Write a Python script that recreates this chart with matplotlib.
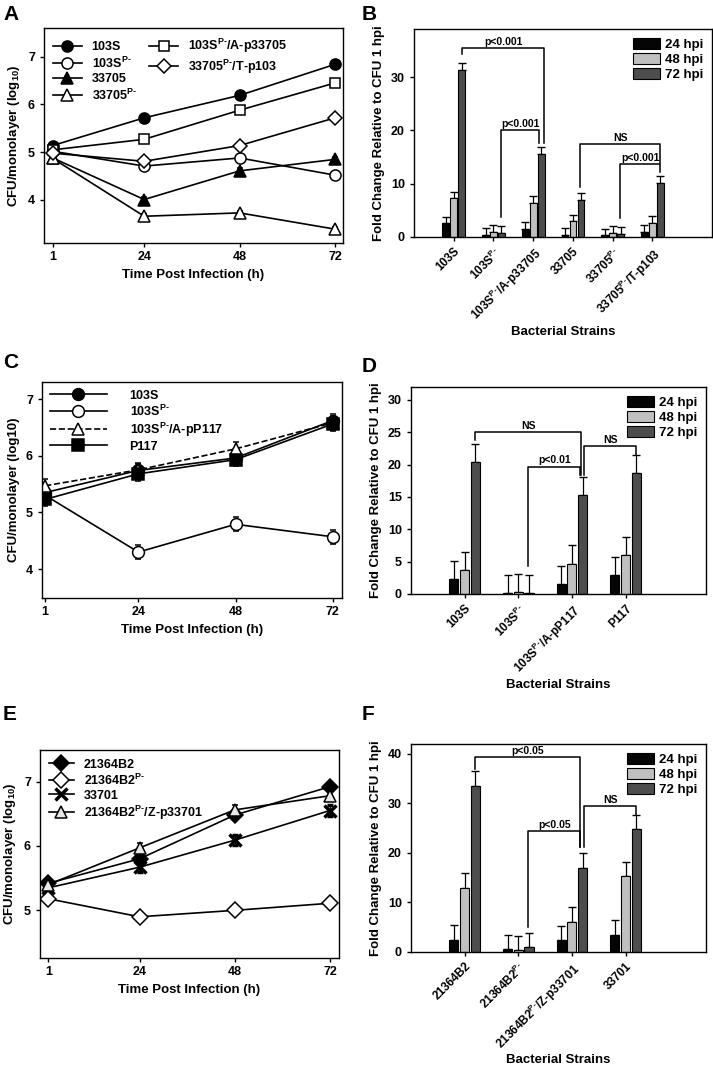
import matplotlib
matplotlib.use('Agg')
import matplotlib.pyplot as plt
from matplotlib.lines import Line2D
import numpy as np

plt.rcParams['font.family'] = ['Liberation Sans', 'DejaVu Sans']
plt.rcParams['font.weight'] = 'bold'
plt.rcParams['mathtext.fontset'] = 'custom'
plt.rcParams['mathtext.rm'] = 'Liberation Sans:bold'
plt.rcParams['mathtext.it'] = 'Liberation Sans:bold'
plt.rcParams['mathtext.bf'] = 'Liberation Sans:bold'

# ---------------- data ----------------
hours = [1, 24, 48, 72]

# Panel A
a_103S = [5.14, 5.72, 6.19, 6.84]
a_103S_P = [5.02, 4.71, 4.88, 4.52]
a_33705 = [4.88, 4.01, 4.61, 4.85]
a_33705_P = [4.87, 3.66, 3.73, 3.39]
a_103S_A = [5.05, 5.27, 5.88, 6.45]
a_33705_T = [4.98, 4.81, 5.14, 5.72]
a_err = [0.05, 0.05, 0.05, 0.05]

# Panel C
c_103S = [5.35, 5.74, 5.96, 6.62]
c_103S_P = [5.30, 4.30, 4.79, 4.57]
c_103S_A = [5.47, 5.75, 6.12, 6.58]
c_P117 = [5.23, 5.68, 5.93, 6.56]
c_err = [0.12, 0.12, 0.12, 0.12]

# Panel E
e_21364B2 = [5.42, 5.80, 6.48, 6.92]
e_21364B2_P = [5.18, 4.90, 5.00, 5.11]
e_33701 = [5.35, 5.67, 6.09, 6.55]
e_21364B2_Z = [5.40, 5.97, 6.56, 6.78]
e_err = [0.08, 0.08, 0.08, 0.08]

PM = r'$^{\mathrm{P}\text{-}}$'

# Panel B
b_strains = ['103S', '103S' + PM, '103S' + PM + '/A-p33705', '33705', '33705' + PM, '33705' + PM + '/T-p103']
b_24 = [2.56, 0.40, 1.56, 0.40, 0.30, 0.94]
b_48 = [7.25, 0.94, 6.40, 2.94, 0.80, 2.60]
b_72 = [31.4, 0.75, 15.6, 6.94, 0.60, 10.1]
b_err = [1.25, 1.25, 1.25, 1.25, 1.25, 1.25]

# Panel D
d_strains = ['103S', '103S' + PM, '103S' + PM + '/A-pP117', 'P117']
d_24 = [2.3, 0.10, 1.55, 2.9]
d_48 = [3.7, 0.30, 4.70, 6.0]
d_72 = [20.4, 0.15, 15.3, 18.7]
d_err = [2.8, 2.8, 2.8, 2.8]

# Panel F
f_strains = ['21364B2', '21364B2' + PM, '21364B2' + PM + '/Z-p33701', '33701']
f_24 = [2.5, 0.54, 2.4, 3.5]
f_48 = [13.0, 0.40, 6.1, 15.3]
f_72 = [33.6, 0.95, 17.0, 24.8]
f_err = [2.9, 2.9, 2.9, 2.9]

W, H = 713, 1066
fig = plt.figure(figsize=(W / 100, H / 100), dpi=100)


def add_ax(left, top, right, bottom):
    return fig.add_axes([left / W, 1 - bottom / H, (right - left) / W, (bottom - top) / H])


def style_ax(ax, xsize=9, ysize=9):
    for s in ax.spines.values():
        s.set_linewidth(1.0)
    ax.tick_params(direction='out', length=3, width=1, top=False, right=False)
    ax.tick_params(axis='x', labelsize=xsize, pad=3)
    ax.tick_params(axis='y', labelsize=ysize)
    for lab in ax.get_xticklabels() + ax.get_yticklabels():
        lab.set_fontweight('bold')


def line_series(ax, y, err, marker, face, ls='-', ms=8, mew=1.1):
    ax.errorbar(hours, y, yerr=err, color='black', lw=1.2, ls=ls, marker=marker, ms=ms,
                mfc=face, mec='black', mew=mew, capsize=2, elinewidth=1)


def bracket(ax, x1, y1, x2, y2, yt, text):
    ax.plot([x1, x1, x2, x2], [y1, yt, yt, y2], color='black', lw=1.1)
    ax.text((x1 + x2) / 2, yt + 0.2, text, ha='center', va='bottom', fontsize=7.5, fontweight='bold')


def bar_panel(ax, names, v24, v48, v72, err, ymax, yticks):
    x = np.arange(len(names))
    w = 0.17
    cols = ['#050505', '#c0c0c0', '#4d4d4d']
    for off, vals, c, lab in zip([-0.2, 0, 0.2], [v24, v48, v72], cols, ['24 hpi', '48 hpi', '72 hpi']):
        ax.bar(x + off, vals, w, color=c, edgecolor='black', linewidth=0.8, label=lab, zorder=2)
        ax.errorbar(x + off, vals, yerr=[np.zeros(len(vals)), err], fmt='none', ecolor='black',
                    elinewidth=0.9, capsize=3, capthick=1, zorder=1)
    ax.set_xlim(-1, len(names) + 0.5)
    ax.set_ylim(0, ymax)
    ax.set_yticks(yticks)
    ax.set_xticks(x)
    ax.set_xticklabels(names, rotation=45, ha='right', rotation_mode='anchor')
    ax.set_xlabel('Bacterial Strains', fontsize=9.5, fontweight='bold', labelpad=1)
    ax.set_ylabel('Fold Change Relative to CFU 1 hpi', fontsize=9.5, fontweight='bold')
    ax.legend(loc='upper right', frameon=False, handlelength=2.1, handleheight=0.9,
              handletextpad=0.35, labelspacing=0.15, borderaxespad=0.25,
              prop={'weight': 'bold', 'size': 9.5})
    style_ax(ax, xsize=8.5, ysize=9)


# ---------------- Panel A ----------------
axA = add_ax(44, 28, 343, 243)
line_series(axA, a_103S, a_err, 'o', 'black')
line_series(axA, a_103S_P, a_err, 'o', 'white')
line_series(axA, a_33705, a_err, '^', 'black')
line_series(axA, a_33705_P, a_err, '^', 'white')
line_series(axA, a_103S_A, a_err, 's', 'white', ms=7.5)
line_series(axA, a_33705_T, a_err, 'D', 'white', ms=7)
axA.set_xlim(-1.2, 74)
axA.set_ylim(3.1, 7.6)
axA.set_xticks(hours)
axA.set_yticks([4, 5, 6, 7])
axA.set_xlabel('Time Post Infection (h)', fontsize=9.5, fontweight='bold')
axA.set_ylabel('CFU/monolayer (log$_{10}$)', fontsize=9.5, fontweight='bold')


def h(marker, face, ls='-', ms=8):
    return Line2D([], [], color='black', lw=1.2, ls=ls, marker=marker, ms=ms, mfc=face, mec='black', mew=1.1)


blank = Line2D([], [], color='none')
handlesA = [h('o', 'black'), h('o', 'white'), h('^', 'black'), h('^', 'white'),
            h('s', 'white', ms=7.5), h('D', 'white', ms=7), blank, blank]
labelsA = ['103S', '103S' + PM, '33705', '33705' + PM,
           '103S' + PM + '/A-p33705', '33705' + PM + '/T-p103', '', '']
axA.legend(handlesA, labelsA, ncol=2, loc='upper left', frameon=False, handlelength=2.3,
           labelspacing=0.2, columnspacing=1.0, borderaxespad=0.3, prop={'weight': 'bold', 'size': 9})
style_ax(axA)

# ---------------- Panel B ----------------
axB = add_ax(414, 29, 712, 237)
bar_panel(axB, b_strains, b_24, b_48, b_72, b_err, 39, [0, 10, 20, 30])
bracket(axB, 0.2, 34.4, 2.28, 17.6, 35.4, 'p<0.001')
bracket(axB, 1.2, 3.8, 2.15, 17.6, 20.0, 'p<0.001')
bracket(axB, 3.18, 9.4, 5.2, 13.8, 17.4, 'NS')
bracket(axB, 4.18, 3.5, 5.2, 12.2, 13.7, 'p<0.001')

# ---------------- Panel C ----------------
axC = add_ax(42, 382, 342, 598)
line_series(axC, c_103S, c_err, 'o', 'black', ms=8.5)
line_series(axC, c_103S_P, c_err, 'o', 'white', ms=8.5)
line_series(axC, c_103S_A, c_err, '^', 'white', ls='--', ms=8.5)
line_series(axC, c_P117, c_err, 's', 'black', ms=8)
axC.set_xlim(0.2, 74.3)
axC.set_ylim(3.49, 7.3)
axC.set_xticks(hours)
axC.set_yticks([4, 5, 6, 7])
axC.set_xlabel('Time Post Infection (h)', fontsize=9.5, fontweight='bold')
axC.set_ylabel('CFU/monolayer (log10)', fontsize=9.5, fontweight='bold')
handlesC = [h('o', 'black', ms=8.5), h('o', 'white', ms=8.5), h('^', 'white', ls='--', ms=8.5), h('s', 'black', ms=8)]
labelsC = ['103S', '103S' + PM, '103S' + PM + '/A-pP117', 'P117']
axC.legend(handlesC, labelsC, loc='upper left', frameon=False, handlelength=4.6, handletextpad=1.8,
           labelspacing=0.15, borderaxespad=0.2, prop={'weight': 'bold', 'size': 9})
style_ax(axC)

# ---------------- Panel D ----------------
axD = add_ax(411, 387, 706, 594)
bar_panel(axD, d_strains, d_24, d_48, d_72, d_err, 32, [0, 5, 10, 15, 20, 25, 30])
bracket(axD, 0.2, 23.8, 2.17, 18.4, 25.0, 'NS')
bracket(axD, 1.19, 4.3, 2.15, 18.4, 19.7, 'p<0.01')
bracket(axD, 2.23, 18.4, 3.2, 21.5, 22.9, 'NS')

# ---------------- Panel E ----------------
axE = add_ax(40, 750, 339, 958)
line_series(axE, e_21364B2, e_err, 'D', 'black', ms=8)
line_series(axE, e_21364B2_P, e_err, 'D', 'white', ms=8)
line_series(axE, e_33701, e_err, 'x', 'black', ms=8, mew=2.5)
line_series(axE, e_21364B2_Z, e_err, '^', '#e8e8e8', ms=8)
axE.set_xlim(-1.1, 74.3)
axE.set_ylim(4.26, 7.49)
axE.set_xticks(hours)
axE.set_yticks([5, 6, 7])
axE.set_xlabel('Time Post Infection (h)', fontsize=9.5, fontweight='bold')
axE.set_ylabel('CFU/monolayer (log$_{10}$)', fontsize=9.5, fontweight='bold')
hx = Line2D([], [], color='black', lw=1.2, marker='x', ms=8, mec='black', mew=2.5)
handlesE = [h('D', 'black'), h('D', 'white'), hx, h('^', '#e8e8e8')]
labelsE = ['21364B2', '21364B2' + PM, '33701', '21364B2' + PM + '/Z-p33701']
axE.legend(handlesE, labelsE, loc='upper left', frameon=False, handlelength=2.0,
           labelspacing=0.15, borderaxespad=0.3, prop={'weight': 'bold', 'size': 9})
style_ax(axE)

# ---------------- Panel F ----------------
axF = add_ax(411, 744, 706, 952)
bar_panel(axF, f_strains, f_24, f_48, f_72, f_err, 42, [0, 10, 20, 30, 40])
bracket(axF, 0.2, 37.0, 2.15, 21.3, 39.3, 'p<0.05')
bracket(axF, 1.19, 5.1, 2.15, 21.3, 24.5, 'p<0.05')
bracket(axF, 2.23, 21.3, 3.2, 27.7, 29.5, 'NS')

# panel letters
for lab, x, y in [('A', 3, 14), ('B', 362, 14), ('C', 3, 362), ('D', 362, 367), ('E', 3, 715), ('F', 362, 715)]:
    fig.text(x / W, 1 - y / H, lab, fontsize=15, fontweight='bold', va='center', ha='left')

fig.savefig('out.png', dpi=100)
